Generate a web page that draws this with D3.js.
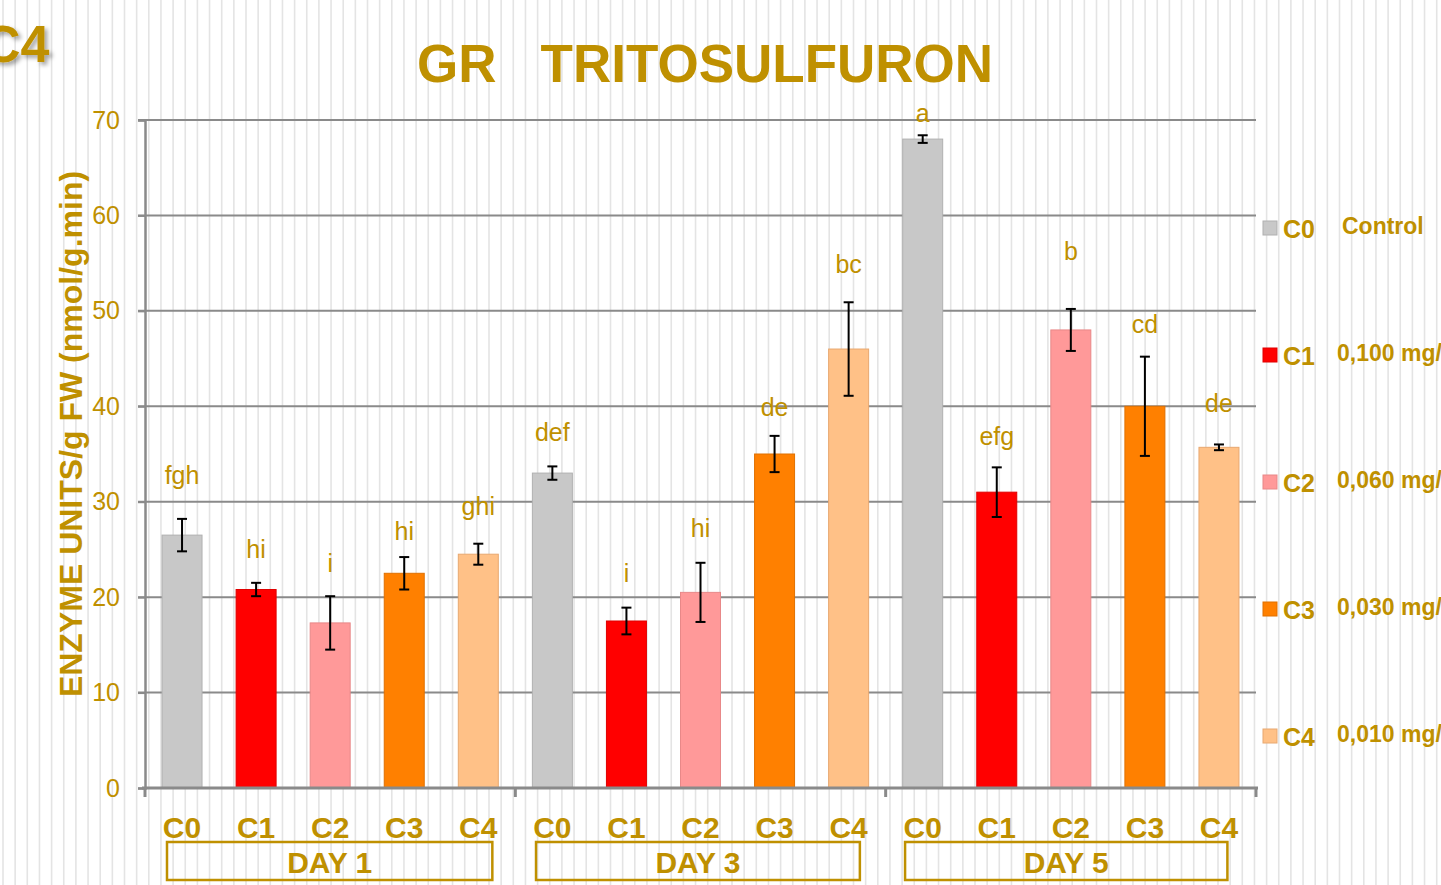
<!DOCTYPE html>
<html>
<head>
<meta charset="utf-8">
<script src="https://cdn.jsdelivr.net/npm/d3@7"></script>
<style>
  body { margin: 0; background: #fff; }
  svg { display: block; font-family: "Liberation Sans", Arial, sans-serif; }
</style>
</head>
<body>
<svg id="chart" width="1441" height="885"></svg>
<script>
// Data
const days = ["DAY 1", "DAY 3", "DAY 5"];
const treatments = ["C0", "C1", "C2", "C3", "C4"];
const legendLabels = ["Control", "0,100 mg/L", "0,060 mg/L", "0,030 mg/L", "0,010 mg/L"];
const values = [
  [26.5, 20.8, 17.3, 22.5, 24.5],
  [33.0, 17.5, 20.5, 35.0, 46.0],
  [68.0, 31.0, 48.0, 40.0, 35.7]
];
const errors = [
  [1.7, 0.7, 2.8, 1.7, 1.1],
  [0.7, 1.4, 3.1, 1.9, 4.9],
  [0.4, 2.6, 2.2, 5.2, 0.3]
];
const letters = [
  ["fgh", "hi", "i", "hi", "ghi"],
  ["def", "i", "hi", "de", "bc"],
  ["a", "efg", "b", "cd", "de"]
];
// height (in y units) where each significance letter sits
const letterLevel = [
  [32.6, 24.8, 23.4, 26.7, 29.3],
  [37.1, 22.3, 27.0, 39.7, 54.7],
  [70.5, 36.7, 56.1, 48.4, 40.1]
];
const yTicks = [0, 10, 20, 30, 40, 50, 60, 70];

const gold = "#bf9000";
const colorScale = d3.scaleOrdinal()
  .domain(treatments)
  .range(["#c8c8c8", "#ff0000", "#ff9999", "#ff8000", "#ffc187"]);
const strokeScale = d3.scaleOrdinal()
  .domain(treatments)
  .range(["#b0b0b0", "#e00000", "#e88888", "#e07000", "#e8a870"]);

const svg = d3.select("#chart");
const W = 1441, H = 885;
const plot = { left: 145, right: 1256, top: 120, bottom: 788 };

// background stripes
svg.append("g").selectAll("line")
  .data(d3.range(3, W, 12.15))
  .join("line")
  .attr("x1", d => d).attr("x2", d => d)
  .attr("y1", 0).attr("y2", H)
  .attr("stroke", "#e4e4e4").attr("stroke-width", 1.6);

// flatten data
const rows = [];
days.forEach((day, i) => {
  treatments.forEach((t, j) => {
    rows.push({
      key: day + "-" + t, day, t,
      v: values[i][j], e: errors[i][j],
      letter: letters[i][j], lv: letterLevel[i][j]
    });
  });
});

const x = d3.scaleBand().domain(rows.map(d => d.key)).range([plot.left, plot.right]).paddingInner(0.46).paddingOuter(0.23);
const xDay = d3.scaleBand().domain(days).range([plot.left, plot.right]);
const y = d3.scaleLinear().domain([0, 70]).range([plot.bottom, plot.top]);

// gridlines
svg.append("g").selectAll("line")
  .data(yTicks.filter(d => d > 0))
  .join("line")
  .attr("x1", plot.left - 7).attr("x2", plot.right)
  .attr("y1", d => y(d)).attr("y2", d => y(d))
  .attr("stroke", "#8a8a8a").attr("stroke-width", 2);

// y axis
const yAxis = svg.append("g")
  .attr("transform", `translate(${plot.left},0)`)
  .call(d3.axisLeft(y).tickValues(yTicks).tickSize(7).tickPadding(18));
yAxis.select(".domain").attr("stroke", "#8a8a8a").attr("stroke-width", 2.5);
yAxis.selectAll(".tick line").attr("stroke", "#8a8a8a").attr("stroke-width", 2);
yAxis.selectAll(".tick text").attr("fill", gold).attr("font-size", 25)
  .attr("font-family", "Liberation Sans, Arial, sans-serif");

// bars
svg.append("g").selectAll("rect")
  .data(rows)
  .join("rect")
  .attr("x", d => x(d.key))
  .attr("width", x.bandwidth())
  .attr("y", d => y(d.v))
  .attr("height", d => y(0) - y(d.v))
  .attr("fill", d => colorScale(d.t))
  .attr("stroke", d => strokeScale(d.t))
  .attr("stroke-width", 1);

// error bars
const eb = svg.append("g").attr("stroke", "#000").attr("stroke-width", 2);
rows.forEach(d => {
  const cx = x(d.key) + x.bandwidth() / 2;
  eb.append("line").attr("x1", cx).attr("x2", cx).attr("y1", y(d.v + d.e)).attr("y2", y(d.v - d.e));
  eb.append("line").attr("x1", cx - 5).attr("x2", cx + 5).attr("y1", y(d.v + d.e)).attr("y2", y(d.v + d.e));
  eb.append("line").attr("x1", cx - 5).attr("x2", cx + 5).attr("y1", y(d.v - d.e)).attr("y2", y(d.v - d.e));
});

// significance letters
svg.append("g").selectAll("text")
  .data(rows)
  .join("text")
  .attr("x", d => x(d.key) + x.bandwidth() / 2)
  .attr("y", d => y(d.lv) + 7)
  .attr("text-anchor", "middle")
  .attr("fill", gold)
  .attr("font-size", 25)
  .text(d => d.letter);

// x axis line and ticks
svg.append("line")
  .attr("x1", plot.left - 3).attr("x2", plot.right + 2)
  .attr("y1", plot.bottom).attr("y2", plot.bottom)
  .attr("stroke", "#8a8a8a").attr("stroke-width", 3);
svg.append("g").selectAll("line")
  .data(days.map(d => xDay(d)).concat([plot.right]))
  .join("line")
  .attr("x1", d => d).attr("x2", d => d)
  .attr("y1", plot.bottom).attr("y2", plot.bottom + 9)
  .attr("stroke", "#8a8a8a").attr("stroke-width", 3);

// treatment labels
svg.append("g").selectAll("text")
  .data(rows)
  .join("text")
  .attr("x", d => x(d.key) + x.bandwidth() / 2)
  .attr("y", 838)
  .attr("text-anchor", "middle")
  .attr("fill", gold)
  .attr("font-size", 30)
  .attr("font-weight", "bold")
  .text(d => d.t);

// day boxes
const boxX = (d, i) => xDay(d) + 22 - i * 1.3;
const boxW = (d, i) => xDay.bandwidth() - 45 - i * 1.5;
const dayG = svg.append("g").selectAll("g")
  .data(days)
  .join("g");
dayG.append("rect")
  .attr("x", boxX)
  .attr("y", 842)
  .attr("width", boxW)
  .attr("height", 38)
  .attr("fill", "none")
  .attr("stroke", gold)
  .attr("stroke-width", 2.5);
dayG.append("text")
  .attr("x", (d, i) => boxX(d, i) + boxW(d, i) / 2)
  .attr("y", 873)
  .attr("text-anchor", "middle")
  .attr("fill", gold)
  .attr("font-size", 30)
  .attr("font-weight", "bold")
  .text(d => d);

// legend
const leg = svg.append("g").selectAll("g")
  .data(treatments)
  .join("g")
  .attr("transform", (d, i) => `translate(1263,${228 + i * 127})`);
leg.append("rect")
  .attr("x", 0).attr("y", -7)
  .attr("width", 14).attr("height", 14)
  .attr("fill", d => colorScale(d))
  .attr("stroke", d => strokeScale(d));
leg.append("text")
  .attr("x", 20).attr("y", 10)
  .attr("fill", gold).attr("font-size", 25).attr("font-weight", "bold")
  .text(d => d);
leg.append("text")
  .attr("x", (d, i) => i === 0 ? 79 : 74).attr("y", 6)
  .attr("fill", gold).attr("font-size", 23).attr("font-weight", "bold")
  .text((d, i) => legendLabels[i]);

// y axis title
svg.append("text")
  .attr("transform", "translate(82,434) rotate(-90)")
  .attr("text-anchor", "middle")
  .attr("fill", gold)
  .attr("font-size", 32)
  .attr("font-weight", "bold")
  .text("ENZYME UNITS/g FW (nmol/g.min)");

// title
svg.append("text")
  .attr("x", 705).attr("y", 82)
  .attr("text-anchor", "middle")
  .attr("fill", gold)
  .attr("font-size", 53)
  .attr("font-weight", "bold")
  .style("white-space", "pre")
  .text("GR   TRITOSULFURON");

// corner label
svg.append("defs").append("filter").attr("id", "shadow")
  .append("feDropShadow").attr("dx", 3).attr("dy", 3).attr("stdDeviation", 2)
  .attr("flood-color", "#000").attr("flood-opacity", 0.35);
svg.append("text")
  .attr("x", -17).attr("y", 62)
  .attr("fill", gold)
  .attr("font-size", 52)
  .attr("font-weight", "bold")
  .attr("filter", "url(#shadow)")
  .text("C4");
</script>
</body>
</html>
